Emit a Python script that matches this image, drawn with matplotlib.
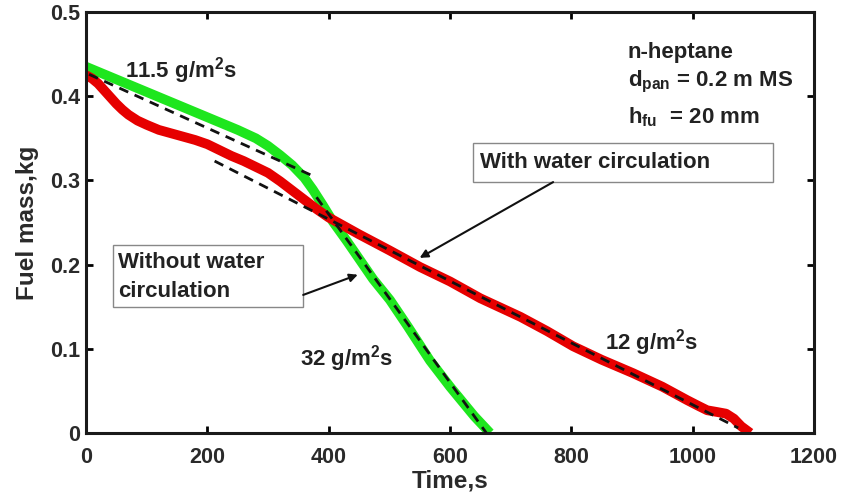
import matplotlib
matplotlib.use('Agg')
from matplotlib import pyplot as plt
from matplotlib.patches import Rectangle

plt.rcParams['font.family'] = ['Liberation Sans', 'DejaVu Sans']
plt.rcParams['font.weight'] = 'bold'
plt.rcParams['mathtext.fontset'] = 'custom'
plt.rcParams['mathtext.rm'] = 'Liberation Sans:bold'
plt.rcParams['mathtext.bf'] = 'Liberation Sans:bold'
plt.rcParams['mathtext.it'] = 'Liberation Sans:bold'

# Without water circulation (green)
t_without = [0, 50, 100, 150, 200, 250, 280, 300, 320, 340, 360, 374, 390, 407, 430, 452, 473, 501, 530,
             567, 600, 640, 666]
m_without = [0.435, 0.420, 0.405, 0.390, 0.375, 0.360, 0.350, 0.341, 0.330, 0.318, 0.303, 0.289, 0.271,
             0.251, 0.228, 0.205, 0.183, 0.158, 0.127, 0.086, 0.055, 0.020, 0.0]

# With water circulation (red)
t_with = [0, 10, 20, 30, 40, 50, 60, 70, 85, 100, 120, 140, 160, 180, 200, 220, 240, 260, 280, 300, 320,
          340, 360, 380, 400, 420, 450, 500, 551, 600, 650, 716, 760, 803, 850, 902, 950, 991, 1010, 1024,
          1040, 1055, 1068, 1080, 1095]
m_with = [0.425, 0.421, 0.415, 0.407, 0.399, 0.391, 0.384, 0.378, 0.371, 0.366, 0.360, 0.356, 0.352, 0.348,
          0.343, 0.336, 0.329, 0.323, 0.316, 0.309, 0.299, 0.288, 0.277, 0.266, 0.256, 0.248, 0.236, 0.217,
          0.197, 0.180, 0.160, 0.138, 0.121, 0.103, 0.087, 0.071, 0.055, 0.039, 0.032, 0.027, 0.025, 0.023,
          0.017, 0.008, 0.0]

# linear fits (dashed)
fit1_t = [5, 375]
fit1_m = [0.426, 0.305]
fit2_t = [380, 660]
fit2_m = [0.280, 0.0]
fit3_t = [212, 1075]
fit3_m = [0.323, 0.006]

xticks = [0, 200, 400, 600, 800, 1000, 1200]
yticks = [0, 0.1, 0.2, 0.3, 0.4, 0.5]
ytick_labels = ['0', '0.1', '0.2', '0.3', '0.4', '0.5']

fig = plt.figure(figsize=(8.43, 4.98), dpi=100)
ax = fig.add_axes([0.102, 0.1305, 0.8636, 0.8454])

ax.plot(t_without, m_without, color='#1ee61e', lw=7, solid_capstyle='butt', solid_joinstyle='round', zorder=2)
ax.plot(t_with, m_with, color='#e60000', lw=7, solid_capstyle='butt', solid_joinstyle='round', zorder=2)
for ft, fm in [(fit1_t, fit1_m), (fit2_t, fit2_m), (fit3_t, fit3_m)]:
    ax.plot(ft, fm, color='#111111', ls='--', lw=2, dashes=(3.5, 2.5), zorder=3)

ax.set_xlim(0, 1200)
ax.set_ylim(0, 0.5)
ax.set_xticks(xticks)
ax.set_yticks(yticks)
ax.set_yticklabels(ytick_labels)
ax.tick_params(direction='in', length=5, width=2, labelsize=15.5, top=True, right=True)
ax.tick_params(axis='x', pad=10)
ax.tick_params(axis='y', pad=4)
for lab in ax.get_xticklabels() + ax.get_yticklabels():
    lab.set_fontweight('bold')
    lab.set_color('#2a2a2a')
for sp in ax.spines.values():
    sp.set_linewidth(2.2)
    sp.set_color('#1a1a1a')

ax.set_xlabel('Time,s', fontsize=17.5, fontweight='bold', labelpad=1, color='#2a2a2a')
ax.set_ylabel('Fuel mass,kg', fontsize=17.5, fontweight='bold', labelpad=8, color='#2a2a2a')

txt = dict(fontsize=16, fontweight='bold', color='#222222')
ax.text(64, 0.431, r'11.5 g/m$^{2}$s', va='center', ha='left', **txt)
ax.text(353, 0.089, r'32 g/m$^{2}$s', va='center', ha='left', **txt)
ax.text(855, 0.108, r'12 g/m$^{2}$s', va='center', ha='left', **txt)
ax.text(893, 0.452, 'n-heptane', va='center', ha='left', **txt)
ax.text(893, 0.417, r'd$_{pan}$ = 0.2 m MS', va='center', ha='left', **txt)
ax.text(893, 0.375, r'h$_{fu}$  = 20 mm', va='center', ha='left', **txt)

# annotation boxes
ax.add_patch(Rectangle((638, 0.298), 494, 0.046, facecolor='white', edgecolor='#888888', lw=1, zorder=4))
ax.text(650, 0.321, 'With water circulation', va='center', ha='left', zorder=5, **txt)
ax.annotate('', xy=(550, 0.208), xytext=(770, 0.298),
            arrowprops=dict(arrowstyle='-|>', color='#111111', lw=1.5, mutation_scale=12, shrinkA=0, shrinkB=0),
            zorder=5)

ax.add_patch(Rectangle((44, 0.150), 314, 0.073, facecolor='white', edgecolor='#888888', lw=1, zorder=4))
ax.text(53, 0.202, 'Without water', va='center', ha='left', zorder=5, **txt)
ax.text(53, 0.168, 'circulation', va='center', ha='left', zorder=5, **txt)
ax.annotate('', xy=(448, 0.188), xytext=(358, 0.164),
            arrowprops=dict(arrowstyle='-|>', color='#111111', lw=1.5, mutation_scale=12, shrinkA=0, shrinkB=0),
            zorder=5)

fig.savefig('out.png', dpi=100)
